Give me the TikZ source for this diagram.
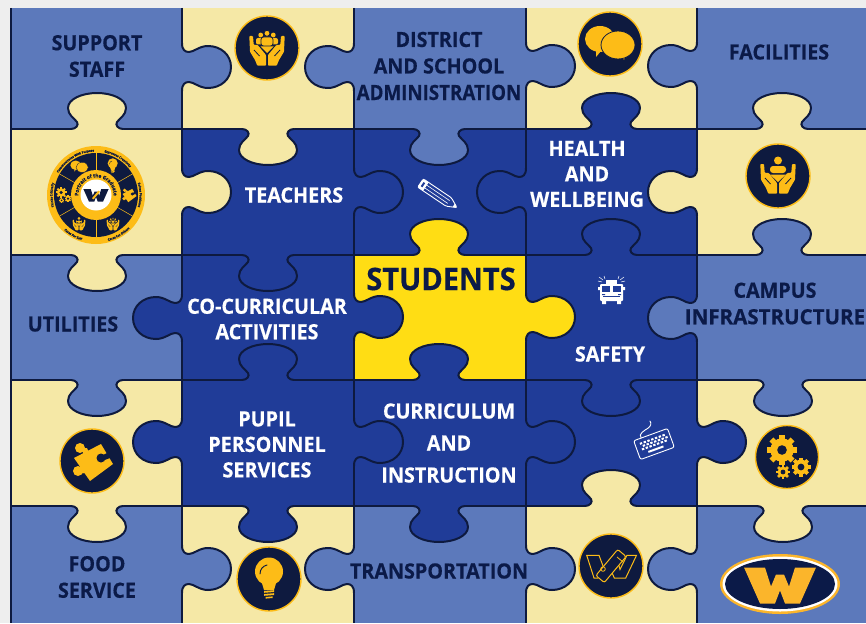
\documentclass[tikz,border=0pt]{standalone}
\usepackage{fontspec}
\setmainfont{Open Sans}[BoldFeatures={FakeStretch=0.94,FakeBold=0.4}]
\usetikzlibrary{decorations.text}
\definecolor{pagebg}{HTML}{EEEEEE}
\definecolor{midblue}{HTML}{5C79BB}
\definecolor{cream}{HTML}{F5E8A6}
\definecolor{deepblue}{HTML}{203C98}
\definecolor{sun}{HTML}{FFDD14}
\definecolor{ink}{HTML}{0E1A3F}
\definecolor{navy}{HTML}{0B1A48}
\definecolor{gold}{HTML}{FDBC17}
\definecolor{amber}{HTML}{FBB52B}
\tikzset{
  edge/.style={draw=ink,line width=2pt,line join=round,line cap=round},
  ringdisc/.style={fill=ink,draw=gold,line width=1.4pt},
  darklabel/.style={text=navy,align=center,inner sep=0pt,font=\bfseries\fontsize{21}{26.5}\selectfont},
  lightlabel/.style={text=white,align=center,inner sep=0pt,font=\bfseries\fontsize{21}{25.5}\selectfont},
  whiteline/.style={draw=white,line width=0.9pt,line join=round},
}
\def\vpath{(0,-24) .. controls (0,-17) and (3,-15) .. (7,-15) .. controls (12,-15) and (17,-21) .. (26,-21) .. controls (39,-21) and (49,-12) .. (49,0) .. controls (49,12) and (39,21) .. (26,21) .. controls (17,21) and (12,15) .. (7,15) .. controls (3,15) and (0,17) .. (0,24)}
\def\hpath{(-26,0) .. controls (-21,0) and (-18,4) .. (-20,7) .. controls (-23,11) and (-29,14) .. (-29,21) .. controls (-29,30) and (-15,36) .. (0,36) .. controls (15,36) and (29,30) .. (29,21) .. controls (29,14) and (23,11) .. (20,7) .. controls (18,4) and (21,0) .. (26,0)}
\newcommand\vtab[4]{\begin{scope}[shift={(#1,#2)},xscale=#3]
  \fill[#4] \vpath -- (-1.3,24) -- (-1.3,-24) -- cycle;
  \draw[edge] \vpath;
\end{scope}}
\newcommand\htab[4]{\begin{scope}[shift={(#1,#2)},yscale=#3]
  \fill[#4] \hpath -- (26,-1.3) -- (-26,-1.3) -- cycle;
  \draw[edge] \hpath;
\end{scope}}
\newcommand\cell[5]{\fill[#1] (#2,#3) rectangle (#4,#5);}
\def\sep{0.8pt}
% glyphs, in local px round (0,0)
\newcommand\glyphHand{%
  \fill[gold,rounded corners=0.8] (-17.7,-12) -- (-14,-12) -- (-13.3,-3.3) -- (-9.3,-3) -- (-1,7) -- (-1,17.7) -- (-9.7,17.7) -- (-12,12) -- (-17,3.7) -- cycle;
  \draw[ink,line width=\sep] (-13,2) -- (-7.5,8);
}
\newcommand\glyphHands{\glyphHand\begin{scope}[xscale=-1]\glyphHand\end{scope}}
\newcommand\glyphGroup{%
  \glyphHands
  \fill[gold] (-6.3,-13) circle[radius=2.4] (6.3,-13) circle[radius=2.4];
  \fill[gold,rounded corners=2] (-11,-3.5) -- (-11,-10) -- (11,-10) -- (11,-3.5) -- cycle;
  \fill[gold,draw=ink,line width=\sep] (0,-14.7) circle[radius=3];
  \fill[gold,draw=ink,line width=\sep,rounded corners=2.5] (-6,-2) -- (-6,-11) -- (6,-11) -- (6,-2) -- cycle;
  \fill[gold] (-6.5,-1.5) -- (6.5,-1.5) -- (0,5) -- cycle;
}
\newcommand\glyphCare{%
  \glyphHands
  \fill[gold] (0,-15.5) circle[radius=4];
  \fill[gold,rounded corners=3] (-8,-3) -- (-8,-10) -- (8,-10) -- (8,-3) -- cycle;
  \fill[gold] (-8,-1.5) -- (8,-1.5) -- (0,6) -- cycle;
}
\newcommand\glyphSpeech{%
  \fill[gold] (-14,6) -- (-14,13) -- (-9,7) -- cycle;
  \fill[gold] (-10,-5) ellipse[x radius=15,y radius=13];
  \fill[gold] (11,10) -- (14,16) -- (15.5,10) -- cycle;
  \fill[gold,draw=ink,line width=\sep] (8,1) ellipse[x radius=17,y radius=14];
}
\newcommand\glyphBulb{%
  \fill[gold] (0,-7.5) circle[radius=14];
  \fill[gold] (-8,1) -- (8,1) -- (5,11) -- (-5,11) -- cycle;
  \draw[ink,line width=1.2*\sep,line cap=round] (-9,-5) .. controls (-9,-10) and (-6,-13) .. (-2,-14);
  \fill[gold] (-5,12) -- (5,11.2) -- (5,13) -- (-5,13.8) -- cycle;
  \fill[gold] (-5,15) -- (5,14.2) -- (5,16) -- (-5,16.8) -- cycle;
  \fill[gold] (-3.5,18) -- (3.5,17.4) -- (3.5,19) -- (-3.5,19.6) -- cycle;
}
\newcommand\glyphPuzzle{%
  \fill[gold] (9,-17) -- (21,3) -- (-2,20) -- (-18,-3) -- cycle;
  \fill[gold] (-12,-13) circle[radius=5] (-14,10) circle[radius=5];
  \fill[gold] (-11,-13) -- (-5,-13) -- (-2,-6) -- (-8,-6) -- cycle;
  \fill[gold] (-14,7) -- (-14,13) -- (-7,12) -- (-7,5) -- cycle;
  \fill[ink] (9,-3) circle[radius=4.5];
  \fill[ink] (9,-5) -- (17,-9) -- (18,-3) -- (10,0) -- cycle;
}
\newcommand\gearpart[6]{\begin{scope}[shift={(#1,#2)}]
  \foreach \a in {#5}{\fill[gold,rotate=\a] (-#6,0) rectangle (#6,#3);}
  \fill[gold] (0,0) circle[radius=0.78*#3];
  \fill[ink] (0,0) circle[radius=#4];
\end{scope}}
\newcommand\glyphGears{%
  \gearpart{-5}{-7}{15}{4.8}{0,45,...,315}{2.8}
  \gearpart{14}{10}{9.5}{3.4}{0,45,...,315}{1.8}
  \gearpart{-4}{15}{7}{2.4}{0,45,...,315}{1.3}
}
\newcommand\Wshape{(-36,-17) -- (-15,-17) -- (-9,2) -- (-4,-10) -- (4,-10) -- (9,2) -- (15,-17) -- (36,-17) -- (20,19) -- (5,19) -- (0,6) -- (-5,19) -- (-20,19) -- cycle}
\begin{document}
\begin{tikzpicture}[x=1pt,y=-1pt]
\useasboundingbox (0,0) rectangle (866,623);
\fill[pagebg] (0,0) rectangle (866,623);
% cells
\cell{midblue}{11}{8}{182}{129}   \cell{cream}{182}{8}{354}{129}    \cell{midblue}{354}{8}{526}{129}   \cell{cream}{526}{8}{697}{129}    \cell{midblue}{697}{8}{866}{129}
\cell{cream}{11}{129}{182}{255}   \cell{deepblue}{182}{129}{354}{255} \cell{deepblue}{354}{129}{526}{255} \cell{deepblue}{526}{129}{697}{255} \cell{cream}{697}{129}{866}{255}
\cell{midblue}{11}{255}{182}{380} \cell{deepblue}{182}{255}{354}{380} \cell{sun}{354}{255}{526}{380}    \cell{deepblue}{526}{255}{697}{380} \cell{midblue}{697}{255}{866}{380}
\cell{cream}{11}{380}{182}{506}   \cell{deepblue}{182}{380}{354}{506} \cell{deepblue}{354}{380}{526}{506} \cell{deepblue}{526}{380}{697}{506} \cell{cream}{697}{380}{866}{506}
\cell{midblue}{11}{506}{182}{623} \cell{cream}{182}{506}{354}{623}  \cell{midblue}{354}{506}{526}{623} \cell{cream}{526}{506}{697}{623} \cell{midblue}{697}{506}{866}{623}
% grid
\foreach \gx in {11,182,354,526,697}{\draw[edge,line cap=butt] (\gx,8) -- (\gx,623);}
\foreach \gy in {129,255,380,506}{\draw[edge,line cap=butt] (11,\gy) -- (866,\gy);}
% vertical-edge tabs
\vtab{182}{67}{1}{midblue}  \vtab{354}{67}{-1}{midblue} \vtab{526}{66}{1}{midblue}  \vtab{697}{66}{-1}{midblue}
\vtab{182}{192}{1}{cream}   \vtab{354}{192}{1}{deepblue} \vtab{526}{192}{-1}{deepblue} \vtab{697}{192}{-1}{cream}
\vtab{182}{318}{-1}{deepblue} \vtab{354}{317}{1}{deepblue} \vtab{526}{317}{1}{sun}   \vtab{697}{318}{-1}{midblue}
\vtab{182}{442}{-1}{deepblue} \vtab{354}{442}{1}{deepblue} \vtab{526}{442}{1}{deepblue} \vtab{697}{442}{1}{deepblue}
\vtab{182}{569}{1}{midblue} \vtab{354}{569}{-1}{midblue} \vtab{526}{569}{1}{midblue} \vtab{697}{569}{-1}{midblue}
% horizontal-edge tabs
\htab{97}{129}{-1}{cream}  \htab{268}{129}{1}{cream}   \htab{439}{129}{1}{midblue} \htab{611}{129}{-1}{deepblue} \htab{782}{129}{-1}{cream}
\htab{97}{255}{1}{cream}   \htab{268}{255}{1}{deepblue} \htab{439}{255}{-1}{sun}    \htab{611}{255}{-1}{deepblue} \htab{782}{255}{-1}{midblue}
\htab{97}{380}{1}{midblue} \htab{268}{380}{-1}{deepblue} \htab{439}{380}{-1}{deepblue} \htab{611}{380}{1}{deepblue} \htab{783}{380}{1}{midblue}
\htab{97}{506}{1}{cream}   \htab{268}{506}{1}{deepblue} \htab{439}{506}{1}{deepblue} \htab{611}{506}{-1}{cream}   \htab{783}{506}{1}{cream}
% labels
\node[darklabel] (support) at (97,56) {SUPPORT\\STAFF};
\node[darklabel] (district) at (439,66) {DISTRICT\\AND SCHOOL\\\scalebox{0.95}[1]{ADMINISTRATION}};
\node[darklabel] (facilities) at (779,52) {FACILITIES};
\node[lightlabel] (teachers) at (294,195) {TEACHERS};
\node[lightlabel] (health) at (587,174) {HEALTH\\AND\\WELLBEING};
\node[text=navy,inner sep=0pt,font=\bfseries\fontsize{31}{36}\selectfont] (students) at (441,279) {STUDENTS};
\node[darklabel] (campus) at (775,303.5) {CAMPUS\\\scalebox{1.04}[1]{INFRASTRUCTURE}};
\node[darklabel] (utilities) at (73,324) {UTILITIES};
\node[lightlabel] (cocurr) at (267,319) {CO-CURRICULAR\\ACTIVITIES};
\node[lightlabel] (safety) at (610,354) {SAFETY};
\node[lightlabel] (pupil) at (267,444.5) {PUPIL\\PERSONNEL\\SERVICES};
\node[lightlabel,font=\bfseries\fontsize{21}{32}\selectfont] (curriculum) at (449,443) {CURRICULUM\\AND\\INSTRUCTION};
\node[darklabel] (food) at (97,577) {FOOD\\SERVICE};
\node[darklabel] (transport) at (439,571) {TRANSPORTATION};
% round icons
\fill[ringdisc] (267,48) circle[radius=32]; \begin{scope}[shift={(267,48)}]\glyphGroup\end{scope}
\fill[ringdisc] (610,44) circle[radius=32]; \begin{scope}[shift={(610,44)}]\glyphSpeech\end{scope}
\fill[ringdisc] (778,176) circle[radius=32]; \begin{scope}[shift={(778,176)}]\glyphCare\end{scope}
\fill[ringdisc] (92,461) circle[radius=32]; \begin{scope}[shift={(92,461)}]\glyphPuzzle\end{scope}
\fill[ringdisc] (269,579) circle[radius=32]; \begin{scope}[shift={(269,579)}]\glyphBulb\end{scope}
\fill[ringdisc] (787,457) circle[radius=31.5]; \begin{scope}[shift={(787,457)}]\glyphGears\end{scope}
\fill[ringdisc] (611,566) circle[radius=32];
\begin{scope}[shift={(611,566)}]
  \draw[gold,line width=1pt,line join=miter] (-8,0) -- (-12,-10.7) -- (-24.3,-10.7) -- (-17,12) -- (-13,12);
  \draw[gold,line width=1pt,line join=miter] (5,-10.7) -- (9,3.5) -- (16,-10.7) -- (25.5,-10.7) -- (14.7,12) -- (3.3,12) -- (0.7,6);
  \draw[gold,fill=ink,line width=1pt,rounded corners=2,rotate=50] (-17,-5.5) rectangle (17,5.5);
  \draw[gold,line width=0.8pt] (-8,3) circle[radius=2.3];
  \draw[gold,line width=0.8pt] (6,-9) -- (12,-4);
\end{scope}
% portrait wheel
\begin{scope}[shift={(96,195)},x=1pt,y=1pt]
  \fill[gold] (0,0) circle[radius=49];
  \fill[ink] (0,0) circle[radius=42];
  \foreach \a in {30,90,...,330}{\draw[gold,line width=0.5pt] (\a:24pt) -- (\a:42pt);}
  \path[decorate,decoration={text along path,text align=center,text color=ink,text={|\fontsize{3.2}{4}\bfseries\selectfont|Communicates With Purpose}}] (150:43.5) arc[start angle=150,end angle=92,radius=43.5];
  \path[decorate,decoration={text along path,text align=center,text color=ink,text={|\fontsize{3.2}{4}\bfseries\selectfont|Expresses Creativity}}] (86:43.5) arc[start angle=86,end angle=32,radius=43.5];
  \path[decorate,decoration={text along path,text align=center,text color=ink,text={|\fontsize{3.2}{4}\bfseries\selectfont|Solves Problems}}] (27:43.5) arc[start angle=27,end angle=-27,radius=43.5];
  \path[decorate,decoration={text along path,text align=center,text color=ink,text={|\fontsize{3.2}{4}\bfseries\selectfont|Cares For Others}}] (-85:47.5) arc[start angle=-85,end angle=-35,radius=47.5];
  \path[decorate,decoration={text along path,text align=center,text color=ink,text={|\fontsize{3.2}{4}\bfseries\selectfont|Cares For Self}}] (-145:47.5) arc[start angle=-145,end angle=-95,radius=47.5];
  \path[decorate,decoration={text along path,text align=center,text color=ink,text={|\fontsize{3.2}{4}\bfseries\selectfont|Thinks Critically}}] (207:43.5) arc[start angle=207,end angle=153,radius=43.5];
  \fill[gold] (0,0) circle[radius=25];
  \fill[white] (0,0) circle[radius=15.5];
  \path[decorate,decoration={text along path,text align=center,text color=ink,text={|\fontsize{5}{6}\bfseries\selectfont|Portrait of the Graduate}}] (195:17.6) arc[start angle=195,end angle=-15,radius=17.6];
\end{scope}
\begin{scope}[shift={(96,195)}]
  \def\sep{0.3pt}
  \begin{scope}[shift={(-16.7,-28)},scale=0.36]\glyphSpeech\end{scope}
  \begin{scope}[shift={(16.7,-29)},scale=0.36]\glyphBulb\end{scope}
  \begin{scope}[shift={(33,0)},scale=0.36]\glyphPuzzle\end{scope}
  \begin{scope}[shift={(17,29)},scale=0.36]\glyphGroup\end{scope}
  \begin{scope}[shift={(-17,29)},scale=0.36]\glyphCare\end{scope}
  \begin{scope}[shift={(-33,0)},scale=0.36]\glyphGears\end{scope}
  \begin{scope}[scale=0.35]\fill[ink] \Wshape;\end{scope}
  \fill[gold,rotate=50] (-5,-1) rectangle (5,1);
\end{scope}
% W oval
\fill[amber] (780,584) ellipse[x radius=60,y radius=30];
\fill[white] (780,584) ellipse[x radius=57.5,y radius=27.5];
\fill[navy] (780,584) ellipse[x radius=55,y radius=25];
\begin{scope}[shift={(780,584.5)}]\fill[amber] \Wshape;\end{scope}
% pencil
\begin{scope}[shift={(420.5,183)},rotate=-34]
  \draw[whiteline,rounded corners=1.5] (0,-5) -- (34,-5) -- (44,0) -- (34,5) -- (0,5) -- cycle;
  \draw[whiteline] (6,-5) -- (6,5);
  \draw[whiteline,line width=0.6pt] (6,-1.7) -- (34,-1.7) (6,1.7) -- (34,1.7);
  \fill[white] (40,-1.8) -- (44,0) -- (40,1.8) -- cycle;
  \fill[white] (0,-5) rectangle (6,5);
  \fill[deepblue] (2,-2.5) rectangle (4,2.5);
\end{scope}
% fire truck
\begin{scope}[shift={(611,292)}]
  \fill[white,rounded corners=1] (-11,-8) rectangle (12,9);
  \fill[white] (-5,-12) rectangle (6,-8);
  \fill[deepblue] (-9,-6) rectangle (-1,0);
  \fill[deepblue] (2,-6) rectangle (10,0);
  \fill[deepblue] (-8,4) rectangle (9,5);
  \fill[deepblue] (-9,2) rectangle (-6,3) (7,2) rectangle (10,3);
  \fill[white] (-9,9) rectangle (-5,12) (6,9) rectangle (10,12);
  \fill[white] (-13,-5) rectangle (-11,-2) (12,-5) rectangle (14,-2);
  \draw[white,line width=0.5pt] (-8,-12) -- (-12,-15) (-9,-10) -- (-13,-11) (-6,-13) -- (-7,-16) (9,-12) -- (13,-15) (10,-10) -- (14,-11) (7,-13) -- (8,-16);
\end{scope}
% keyboard
\begin{scope}[shift={(654,444)},rotate=20]
  \draw[whiteline,rounded corners=2] (-18,-10) rectangle (18,10);
  \foreach \kx in {-12,-8,...,12}{\fill[white] (\kx-1.2,-6) rectangle (\kx+1.2,-4);\fill[white] (\kx+0.8,-3) rectangle (\kx+3.2,-1);\fill[white] (\kx-1.2,0) rectangle (\kx+1.2,2);}
  \fill[white] (-8,4.5) rectangle (8,6.5);
  \draw[white,line width=0.9pt,line cap=round] (-10,-10) .. controls (-12,-15) and (-4,-16) .. (0,-17) .. controls (3,-18) and (5,-20) .. (4,-23);
\end{scope}
\end{tikzpicture}
\end{document}
